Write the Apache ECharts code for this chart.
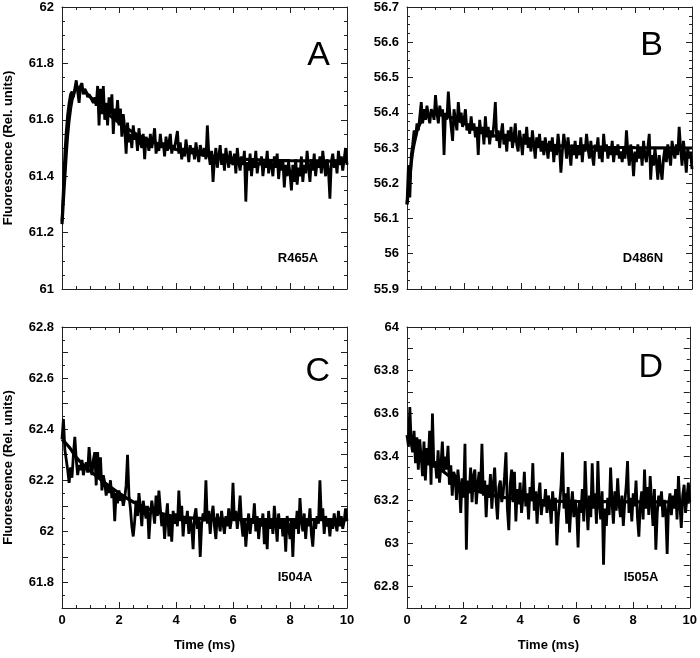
<!DOCTYPE html>
<html>
<head>
<meta charset="utf-8">
<script src="https://cdn.jsdelivr.net/npm/echarts@6/dist/echarts.min.js"></script>
<style>
html, body { margin: 0; padding: 0; background: #fff; }
#chart { width: 700px; height: 658px; }
</style>
</head>
<body>
<div id="chart"></div>
<script>
const traceA = [
    61.24, 61.36, 61.48, 61.56, 61.62, 61.66, 61.69, 61.70, 61.68, 61.71, 61.74, 61.70, 61.66, 61.72, 61.73, 61.69, 61.71, 61.70, 61.68, 61.69,
    61.68, 61.67, 61.66, 61.68, 61.65, 61.72, 61.58, 61.71, 61.62, 61.72, 61.60, 61.66, 61.58, 61.68, 61.62, 61.69, 61.55, 61.64, 61.60, 61.67,
    61.58, 61.64, 61.54, 61.62, 61.57, 61.48, 61.59, 61.52, 61.55, 61.50, 61.58, 61.53, 61.55, 61.49, 61.57, 61.52, 61.50, 61.55, 61.46, 61.54,
    61.52, 61.49, 61.55, 61.50, 61.53, 61.57, 61.48, 61.51, 61.49, 61.55, 61.50, 61.52, 61.47, 61.54, 61.49, 61.52, 61.55, 61.48, 61.51, 61.50,
    61.53, 61.56, 61.48, 61.52, 61.46, 61.50, 61.47, 61.53, 61.49, 61.45, 61.51, 61.48, 61.50, 61.46, 61.52, 61.48, 61.45, 61.51, 61.49, 61.47,
    61.50, 61.46, 61.58, 61.48, 61.44, 61.49, 61.38, 61.46, 61.50, 61.43, 61.47, 61.51, 61.44, 61.48, 61.42, 61.50, 61.46, 61.43, 61.49, 61.45,
    61.44, 61.48, 61.41, 61.50, 61.45, 61.42, 61.47, 61.44, 61.49, 61.31, 61.45, 61.42, 61.48, 61.40, 61.46, 61.43, 61.49, 61.41, 61.45, 61.44,
    61.47, 61.40, 61.45, 61.43, 61.49, 61.41, 61.46, 61.44, 61.40, 61.47, 61.43, 61.48, 61.39, 61.45, 61.42, 61.46, 61.36, 61.44, 61.40, 61.45,
    61.41, 61.35, 61.44, 61.38, 61.46, 61.37, 61.43, 61.40, 61.47, 61.38, 61.44, 61.41, 61.49, 61.43, 61.38, 61.46, 61.42, 61.48, 61.40, 61.45,
    61.43, 61.47, 61.41, 61.49, 61.44, 61.40, 61.46, 61.42, 61.32, 61.45, 61.48, 61.43, 61.46, 61.41, 61.49, 61.44, 61.47, 61.42, 61.46, 61.50, 61.44
];
const traceB = [
    56.14, 56.25, 56.16, 56.28, 56.31, 56.35, 56.33, 56.37, 56.35, 56.39, 56.43, 56.37, 56.41, 56.38, 56.42, 56.39, 56.37, 56.41, 56.40, 56.38,
    56.45, 56.40, 56.37, 56.42, 56.39, 56.41, 56.28, 56.40, 56.38, 56.46, 56.40, 56.36, 56.32, 56.41, 56.38, 56.35, 56.43, 56.38, 56.40, 56.36,
    56.38, 56.41, 56.35, 56.37, 56.34, 56.39, 56.35, 56.37, 56.33, 56.36, 56.28, 56.38, 56.34, 56.36, 56.31, 56.39, 56.33, 56.36, 56.31, 56.35,
    56.33, 56.37, 56.43, 56.32, 56.35, 56.30, 56.34, 56.37, 56.31, 56.34, 56.29, 56.35, 56.32, 56.36, 56.30, 56.33, 56.37, 56.31, 56.29, 56.35,
    56.32, 56.28, 56.34, 56.31, 56.36, 56.30, 56.33, 56.29, 56.35, 56.31, 56.27, 56.33, 56.30, 56.34, 56.29, 56.32, 56.28, 56.33, 56.30, 56.27,
    56.32, 56.29, 56.33, 56.26, 56.31, 56.28, 56.34, 56.30, 56.23, 56.29, 56.34, 56.31, 56.27, 56.33, 56.29, 56.25, 56.31, 56.28, 56.32, 56.27,
    56.30, 56.28, 56.33, 56.26, 56.31, 56.29, 56.34, 56.30, 56.27, 56.32, 56.28, 56.25, 56.31, 56.29, 56.33, 56.27, 56.30, 56.26, 56.34, 56.29,
    56.31, 56.27, 56.30, 56.28, 56.32, 56.26, 56.30, 56.28, 56.31, 56.27, 56.29, 56.26, 56.30, 56.27, 56.35, 56.29, 56.25, 56.31, 56.28, 56.22,
    56.29, 56.26, 56.31, 56.27, 56.30, 56.25, 56.32, 56.28, 56.26, 56.30, 56.34, 56.21, 56.28, 56.25, 56.30, 56.26, 56.21, 56.28, 56.24, 56.21,
    56.27, 56.30, 56.26, 56.31, 56.28, 56.25, 56.32, 56.29, 56.27, 56.31, 56.28, 56.36, 56.30, 56.25, 56.32, 56.28, 56.23, 56.30, 56.27, 56.29, 56.24
];
const traceC = [
    62.36, 62.44, 62.32, 62.28, 62.24, 62.19, 62.25, 62.21, 62.30, 62.37, 62.28, 62.22, 62.26, 62.24, 62.28, 62.22, 62.25, 62.27, 62.23, 62.33,
    62.26, 62.22, 62.28, 62.31, 62.18, 62.31, 62.21, 62.29, 62.16, 62.22, 62.19, 62.14, 62.18, 62.15, 62.20, 62.13, 62.17, 62.04, 62.15, 62.11,
    62.16, 62.12, 62.14, 62.10, 62.13, 62.18, 62.30, 62.14, 62.09, 62.02, 61.98, 62.04, 62.12, 62.06, 62.15, 62.09, 62.02, 62.12, 62.08, 62.05,
    62.10, 61.97, 62.06, 62.12, 62.08, 62.03, 62.14, 62.06, 62.16, 62.09, 62.02, 62.07, 61.97, 62.05, 62.11, 61.98, 62.06, 61.96, 62.08, 62.03,
    62.07, 62.02, 62.16, 62.04, 62.10, 61.98, 62.06, 62.03, 62.08, 61.99, 62.05, 62.02, 61.93, 62.06, 62.09, 62.01, 62.05, 61.90, 62.03, 62.07,
    62.04, 62.20, 62.03, 62.08, 61.99, 62.06, 62.10, 62.02, 61.97, 62.07, 62.04, 62.00, 62.08, 62.03, 61.99, 62.06, 62.02, 62.09, 62.01, 62.05,
    62.19, 62.04, 62.08, 62.01, 62.06, 62.14, 62.03, 61.98, 62.05, 61.94, 62.02, 62.07, 61.99, 62.05, 62.03, 62.11, 62.00, 62.06, 61.97, 62.04,
    62.02, 62.07, 61.95, 62.04, 61.93, 62.08, 62.01, 62.05, 61.99, 62.10, 62.03, 61.96, 62.07, 62.01, 62.05, 61.98, 62.04, 61.92, 62.06, 62.02,
    61.97, 62.04, 61.90, 62.05, 62.01, 62.08, 61.99, 62.13, 62.04, 62.00, 62.07, 61.97, 62.05, 62.02, 62.09, 61.99, 61.94, 62.04, 62.01, 62.06,
    62.03, 62.20, 62.05, 62.09, 61.99, 62.06, 62.02, 62.04, 61.98, 62.05, 62.01, 62.07, 62.03, 62.00, 62.08, 62.02, 62.06, 62.01, 62.04, 62.09, 62.04
];
const traceD = [
    63.50, 63.45, 63.63, 63.46, 63.42, 63.52, 63.37, 63.49, 63.34, 63.48, 63.40, 63.31, 63.47, 63.29, 63.44, 63.36, 63.52, 63.27, 63.60, 63.35,
    63.38, 63.30, 63.43, 63.28, 63.36, 63.47, 63.33, 63.40, 63.34, 63.45, 63.27, 63.36, 63.22, 63.33, 63.31, 63.20, 63.34, 63.27, 63.14, 63.30,
    63.21, 63.46, 62.97, 63.29, 63.23, 63.35, 63.19, 63.31, 63.34, 63.18, 63.27, 63.33, 63.24, 63.46, 63.22, 63.29, 63.12, 63.27, 63.21, 63.32,
    63.16, 63.27, 63.35, 63.20, 63.11, 63.26, 63.29, 63.19, 63.23, 63.31, 63.42, 63.16, 63.06, 63.27, 63.34, 63.19, 63.33, 63.10, 63.25, 63.18,
    63.28, 63.14, 63.21, 63.33, 63.17, 63.23, 63.11, 63.26, 63.20, 63.37, 63.15, 63.24, 63.09, 63.22, 63.28, 63.13, 63.20, 63.17, 63.25, 63.14,
    63.22, 63.18, 63.09, 63.24, 63.15, 63.21, 62.99, 63.12, 63.19, 63.27, 63.42, 63.16, 63.23, 63.09, 63.26, 63.05, 63.17, 63.24, 63.12, 63.20,
    63.15, 62.98, 63.20, 63.14, 63.25, 63.10, 63.38, 63.19, 63.06, 63.22, 63.12, 63.37, 63.16, 63.23, 63.09, 63.38, 63.18, 63.11, 63.24, 62.90,
    63.16, 63.08, 63.21, 63.13, 63.35, 63.19, 63.09, 63.24, 63.15, 63.30, 63.18, 63.12, 63.22, 63.08, 63.19, 63.26, 63.38, 63.14, 63.21, 63.10,
    63.23, 63.17, 63.29, 63.12, 63.03, 63.18, 63.24, 63.11, 63.34, 63.16, 63.26, 63.13, 63.31, 63.19, 63.08, 63.25, 62.97, 63.14, 63.22, 63.17,
    63.24, 63.12, 63.20, 63.15, 62.95, 63.18, 63.23, 63.13, 63.22, 63.16, 63.25, 63.11, 63.31, 63.18, 63.07, 63.22, 63.27, 63.14, 63.21, 63.28, 63.19
];

// fitted curves, [time ms, fluorescence]
const fitA = [[0, 61.23], [0.1, 61.40], [0.2, 61.55], [0.3, 61.64], [0.4, 61.69], [0.5, 61.71], [0.6, 61.715],
    [0.8, 61.70], [1, 61.68], [1.25, 61.655], [1.5, 61.63], [2, 61.59], [2.5, 61.555], [3, 61.53], [3.5, 61.51],
    [4, 61.495], [5, 61.475], [6, 61.463], [7, 61.457], [8, 61.455], [9, 61.454], [10, 61.453]];
const fitB = [[0, 56.14], [0.1, 56.22], [0.2, 56.29], [0.3, 56.33], [0.4, 56.36], [0.6, 56.385], [0.8, 56.395],
    [1, 56.397], [1.3, 56.393], [1.6, 56.385], [2, 56.37], [2.5, 56.352], [3, 56.336], [3.5, 56.325], [4, 56.317],
    [5, 56.308], [6, 56.304], [7, 56.302], [8, 56.301], [10, 56.30]];
const fitC = [[0, 62.36], [0.25, 62.33], [0.5, 62.29], [0.75, 62.26], [1, 62.235], [1.5, 62.19], [2, 62.15],
    [2.5, 62.115], [3, 62.09], [3.5, 62.07], [4, 62.058], [5, 62.05], [6, 62.047], [8, 62.046], [10, 62.046]];
const fitD = [[0, 63.50], [0.25, 63.45], [0.5, 63.41], [0.75, 63.38], [1, 63.36], [1.5, 63.31], [2, 63.265],
    [2.5, 63.24], [3, 63.222], [3.5, 63.21], [4, 63.203], [5, 63.196], [6, 63.193], [8, 63.191], [10, 63.19]];

const panelLetters = ['A', 'B', 'C', 'D'];
const mutants = ['R465A', 'D486N', 'I504A', 'I505A'];
const yMin = [61, 55.9, 61.7, 62.7];
const yMax = [62, 56.7, 62.8, 64];
const yStep = [0.2, 0.1, 0.1, 0.1];
// label every n-th step (C and D show every second 0.1 step)
const yLabelEvery = [1, 1, 2, 2];
const yMinorSplit = [4, 4, 2, 2];

const traces = [traceA, traceB, traceC, traceD];
const fits = [fitA, fitB, fitC, fitD];

const FONT = "'Liberation Sans', Arial, Helvetica, sans-serif";

function toPairs(values) {
    let step = 10 / (values.length - 1);
    return values.map((v, i) => [+(i * step).toFixed(4), v]);
}

let grids = [
    {left: 62, top: 7, width: 285, height: 282},
    {left: 407, top: 7, width: 285, height: 282},
    {left: 62, top: 327, width: 285, height: 281},
    {left: 407, top: 327, width: 285, height: 281}
];

let lineCol = '#222';
let xAxes = [];
let yAxes = [];
let series = [];
let graphics = [];

// letter and mutant label positions (right edge / centre)
let letterPos = [[330, 56], [663, 46], [330, 372], [663, 368]];
let mutantPos = [[298, 258], [643, 258], [295, 577], [641, 577]];

function makeTick() {
    return {show: true, inside: true, length: 6, lineStyle: {color: lineCol, width: 1}};
}

function makeMinor(n) {
    return {show: true, splitNumber: n, length: 3, lineStyle: {color: lineCol, width: 1}};
}

for (let i = 0; i < 4; i++) {
    let bottomRow = i >= 2;
    let leftCol = i % 2 === 0;
    let lo = yMin[i];
    let every = yLabelEvery[i];
    let step = yStep[i];

    // bottom + top x axes
    xAxes.push({
        type: 'value', gridIndex: i, position: 'bottom', min: 0, max: 10, interval: 2,
        axisLine: {show: true, onZero: false, lineStyle: {color: lineCol, width: 1}},
        axisTick: makeTick(), minorTick: makeMinor(4), splitLine: {show: false},
        axisLabel: {show: bottomRow, margin: 6, fontSize: 13, fontWeight: 'bold', color: '#000', fontFamily: FONT},
        name: bottomRow ? 'Time (ms)' : '', nameLocation: 'middle', nameGap: 31,
        nameTextStyle: {fontSize: 13, fontWeight: 'bold', color: '#000', fontFamily: FONT}
    });
    xAxes.push({
        type: 'value', gridIndex: i, position: 'top', min: 0, max: 10, interval: 2,
        axisLine: {show: true, onZero: false, lineStyle: {color: lineCol, width: 1}},
        axisTick: makeTick(), minorTick: makeMinor(4), splitLine: {show: false}, axisLabel: {show: false}
    });

    let labelFmt = (v) => {
        let k = Math.round((v - lo) / step);
        if ((k + (every === 2 ? 1 : 0)) % every !== 0) return '';
        return String(+v.toFixed(1));
    };

    yAxes.push({
        type: 'value', gridIndex: i, position: 'left', min: yMin[i], max: yMax[i], interval: step,
        axisLine: {show: true, onZero: false, lineStyle: {color: lineCol, width: 1}},
        axisTick: makeTick(), minorTick: makeMinor(yMinorSplit[i]), splitLine: {show: false},
        axisLabel: {margin: 8, fontSize: 13, fontWeight: 'bold', color: '#000', fontFamily: FONT, formatter: labelFmt},
        name: leftCol ? 'Fluorescence (Rel. units)' : '', nameLocation: 'middle', nameGap: 47,
        nameTextStyle: {fontSize: 13, fontWeight: 'bold', color: '#000', fontFamily: FONT}
    });
    yAxes.push({
        type: 'value', gridIndex: i, position: 'right', min: yMin[i], max: yMax[i], interval: step,
        axisLine: {show: true, onZero: false, lineStyle: {color: lineCol, width: 1}},
        axisTick: makeTick(), minorTick: makeMinor(yMinorSplit[i]), splitLine: {show: false}, axisLabel: {show: false}
    });

    series.push({
        type: 'line', xAxisIndex: 2 * i, yAxisIndex: 2 * i,
        data: toPairs(traces[i]), showSymbol: false, symbol: 'none',
        lineStyle: {color: '#000', width: 2.8}, z: 3, clip: true
    });
    series.push({
        type: 'line', xAxisIndex: 2 * i, yAxisIndex: 2 * i,
        data: fits[i], showSymbol: false, symbol: 'none', smooth: 0.4,
        lineStyle: {color: '#000', width: 3.2}, z: 4, clip: true
    });

    graphics.push({
        type: 'text', x: letterPos[i][0], y: letterPos[i][1],
        style: {text: panelLetters[i], fontSize: 34, fontFamily: FONT, fill: '#000', align: 'right', verticalAlign: 'middle'}
    });
    graphics.push({
        type: 'text', x: mutantPos[i][0], y: mutantPos[i][1],
        style: {text: mutants[i], fontSize: 13, fontWeight: 'bold', fontFamily: FONT, fill: '#000', align: 'center', verticalAlign: 'middle'}
    });
}

let chart = echarts.init(document.getElementById('chart'), null, {renderer: 'canvas'});
chart.setOption({
    animation: false,
    backgroundColor: '#fff',
    textStyle: {fontFamily: FONT},
    grid: grids,
    xAxis: xAxes,
    yAxis: yAxes,
    series: series,
    graphic: graphics
});
</script>
</body>
</html>
